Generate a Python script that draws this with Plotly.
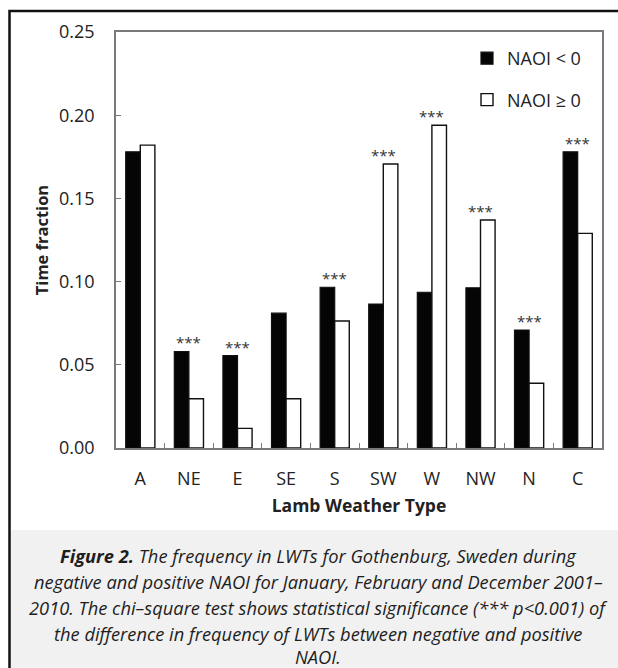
import plotly.graph_objects as go

# ---------------- data ----------------
categories = ["A", "NE", "E", "SE", "S", "SW", "W", "NW", "N", "C"]
naoi_neg = [0.178, 0.058, 0.0555, 0.081, 0.0966, 0.0865, 0.0936, 0.0963, 0.0709, 0.178]
naoi_pos = [0.182, 0.0296, 0.0118, 0.0296, 0.0763, 0.1707, 0.194, 0.137, 0.0389, 0.129]
significant = [False, True, True, False, True, True, True, True, True, True]
y_ticks = [0.00, 0.05, 0.10, 0.15, 0.20, 0.25]
caption_lines = [
    "<b>Figure 2.</b> The frequency in LWTs for Gothenburg, Sweden during",
    "negative and positive NAOI for January, February and December 2001–",
    "2010. The chi–square test shows statistical significance (*** p<0.001) of",
    "the difference in frequency of LWTs between negative and positive",
    "NAOI.",
]

# ---------------- layout geometry (page pixels) ----------------
W, H = 618, 668
PLOT_L, PLOT_R, PLOT_T, PLOT_B = 116, 602, 32, 448
ML, MR, MT, MB = PLOT_L, W - PLOT_R, PLOT_T, H - PLOT_B
PW, PH = PLOT_R - PLOT_L, PLOT_B - PLOT_T
FONT = "Open Sans"
AXIS_GREY = "#7a7a7a"
TEXT = "#222222"


def px_x(px):
    return (px - PLOT_L) / PW


def px_y(py):
    return (PLOT_B - py) / PH


fig = go.Figure()
fig.add_trace(go.Bar(
    x=categories, y=naoi_neg, name="NAOI < 0", legendgroup="neg",
    marker=dict(color="#050505", line=dict(color="#111111", width=1.2)),
))
fig.add_trace(go.Bar(
    x=categories, y=naoi_pos, name="NAOI ≥ 0", legendgroup="pos",
    marker=dict(color="#ffffff", line=dict(color="#111111", width=1.4)),
))

# significance markers
for cat, a, b, sig in zip(categories, naoi_neg, naoi_pos, significant):
    if sig:
        fig.add_annotation(
            x=cat, y=max(a, b), text="***", showarrow=False,
            yanchor="bottom", yshift=-3,
            font=dict(family=FONT, size=15, color="#333333"),
        )

# caption
caption_y = [555, 581, 607, 633, 656]
for line, cy in zip(caption_lines, caption_y):
    fig.add_annotation(
        x=px_x(318), y=px_y(cy), xref="paper", yref="paper",
        text="<i>" + line + "</i>", showarrow=False,
        xanchor="center", yanchor="middle",
        font=dict(family=FONT, size=18.3, color="#1e1e1e"),
    )

# caption background and outer frame
fig.add_shape(type="rect", xref="paper", yref="paper", layer="below",
              x0=px_x(10.5), x1=px_x(640), y0=px_y(530), y1=px_y(700),
              fillcolor="#f1f1f1", line=dict(width=0))
fig.add_shape(type="rect", xref="paper", yref="paper", layer="above",
              x0=px_x(9.5), x1=px_x(640), y0=px_y(11), y1=px_y(700),
              fillcolor="rgba(0,0,0,0)", line=dict(color="#111111", width=2.5))

fig.update_layout(
    width=W, height=H,
    margin=dict(l=ML, r=MR, t=MT, b=MB, autoexpand=False),
    paper_bgcolor="#ffffff", plot_bgcolor="#ffffff",
    font=dict(family=FONT, color=TEXT),
    barmode="group", bargap=0.4, bargroupgap=0.0,
    showlegend=True,
    legend=dict(
        x=px_x(586), xanchor="right", y=px_y(40), yanchor="top",
        bgcolor="rgba(0,0,0,0)", font=dict(family=FONT, size=18, color=TEXT),
        tracegroupgap=15, itemwidth=30, traceorder="grouped",
    ),
    xaxis=dict(
        type="category", tickson="boundaries", ticks="inside", ticklen=5,
        tickcolor=AXIS_GREY, tickwidth=1.2,
        showline=True, linecolor=AXIS_GREY, linewidth=1.5, mirror=True,
        showgrid=False, zeroline=False,
        tickfont=dict(family=FONT, size=18, color=TEXT),
        ticklabelstandoff=14,
        title=dict(text="<b>Lamb Weather Type</b>", standoff=10,
                   font=dict(family=FONT, size=17.5, color=TEXT)),
    ),
    yaxis=dict(
        range=[0, 0.25], tickvals=y_ticks, tickformat=".2f",
        ticks="inside", ticklen=5, tickcolor=AXIS_GREY, tickwidth=1.2,
        showline=True, linecolor=AXIS_GREY, linewidth=1.5, mirror=True,
        showgrid=False, zeroline=False,
        tickfont=dict(family=FONT, size=18, color=TEXT),
        ticklabelstandoff=16,
        title=dict(text="<b>Time fraction</b>", standoff=6,
                   font=dict(family=FONT, size=16.5, color=TEXT)),
    ),
)

fig.write_html(
    "out.html",
    config={"displayModeBar": False},
    post_script="document.body.style.margin='0';document.body.style.overflow='hidden';",
)
